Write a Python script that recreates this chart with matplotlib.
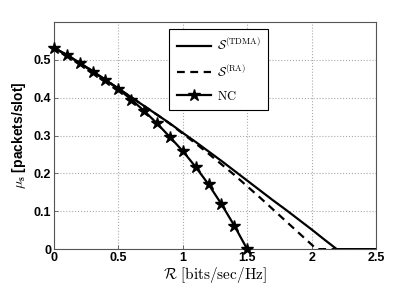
import matplotlib
matplotlib.use('Agg')
import matplotlib.pyplot as plt

plt.rcParams['mathtext.fontset'] = 'cm'

# rate axis values
rate_nc = [0.0, 0.1, 0.2, 0.3, 0.4, 0.5, 0.6, 0.7, 0.8, 0.9,
           1.0, 1.1, 1.2, 1.3, 1.4, 1.5]
mu_nc = [0.531, 0.513, 0.491, 0.469, 0.446, 0.423, 0.395, 0.365, 0.332, 0.296,
         0.259, 0.217, 0.171, 0.119, 0.062, 0.0]

rate_tdma = [0.0, 0.1, 0.2, 0.3, 0.4, 0.5, 0.6, 0.7, 0.8, 0.9, 1.0, 1.1,
             1.2, 1.3, 1.4, 1.5, 1.6, 1.7, 1.8, 1.9, 2.0, 2.1, 2.195, 2.5]
mu_tdma = [0.531, 0.513, 0.492, 0.470, 0.447, 0.424, 0.401, 0.378, 0.355, 0.332,
           0.307, 0.283, 0.258, 0.233, 0.207, 0.181, 0.155, 0.129, 0.104, 0.078,
           0.052, 0.025, 0.0, 0.0]

rate_ra = [0.0, 0.1, 0.2, 0.3, 0.4, 0.5, 0.6, 0.7, 0.8, 0.9, 1.0, 1.1,
           1.2, 1.3, 1.4, 1.5, 1.6, 1.7, 1.8, 1.9, 2.0, 2.04, 2.5]
mu_ra = [0.531, 0.513, 0.492, 0.470, 0.447, 0.424, 0.401, 0.378, 0.355, 0.331,
         0.305, 0.279, 0.252, 0.224, 0.196, 0.166, 0.136, 0.105, 0.074, 0.043,
         0.012, 0.0, 0.0]

xticks = [0, 0.5, 1, 1.5, 2, 2.5]
xticklabels = ['0', '0.5', '1', '1.5', '2', '2.5']
yticks = [0, 0.1, 0.2, 0.3, 0.4, 0.5]
yticklabels = ['0', '0.1', '0.2', '0.3', '0.4', '0.5']

fig = plt.figure(figsize=(4.15, 2.88), dpi=100)
ax = fig.add_axes([0.130, 0.135, 0.776, 0.789])

# plotting the curves
ax.plot(rate_tdma, mu_tdma, color='black', linewidth=1.6,
        label=r'$\mathcal{S}^{(\mathrm{TDMA})}$')
ax.plot(rate_ra, mu_ra, color='black', linewidth=1.6, linestyle=(0, (3.5, 2.5)),
        label=r'$\mathcal{S}^{(\mathrm{RA})}$')
ax.plot(rate_nc, mu_nc, color='black', linewidth=1.6, marker='*',
        markersize=9, label=r'$\mathrm{NC}$', clip_on=False, zorder=5)

ax.set_xlim(0, 2.5)
ax.set_ylim(0, 0.6)
ax.set_xticks(xticks)
ax.set_xticklabels(xticklabels, fontweight='bold', family='Liberation Sans', fontsize=9)
ax.set_yticks(yticks)
ax.set_yticklabels(yticklabels, fontweight='bold', family='Liberation Sans', fontsize=9)
ax.tick_params(direction='in', length=3, width=0.6, color='#555555', pad=2)

ax.grid(True, linestyle=':', color='#aaaaaa', linewidth=0.8)
for s in ax.spines.values():
    s.set_color('#555555')
    s.set_linewidth(0.8)

ax.set_xlabel(r'$\mathcal{R}\ \mathrm{[bits/sec/Hz]}$', fontsize=11, labelpad=1)
ax.set_ylabel(r'$\mu_\mathbf{s}$ [packets/slot]', fontsize=10, fontweight='bold',
              family='Liberation Sans', labelpad=4)

leg = ax.legend(loc='upper left', bbox_to_anchor=(0.339, 0.995), fontsize=9,
                handlelength=2.7, handletextpad=0.5, labelspacing=0.8,
                fancybox=False, borderpad=0.6, framealpha=1)
leg.get_frame().set_edgecolor('black')
leg.get_frame().set_linewidth(0.8)

plt.savefig('out.png', dpi=100)
